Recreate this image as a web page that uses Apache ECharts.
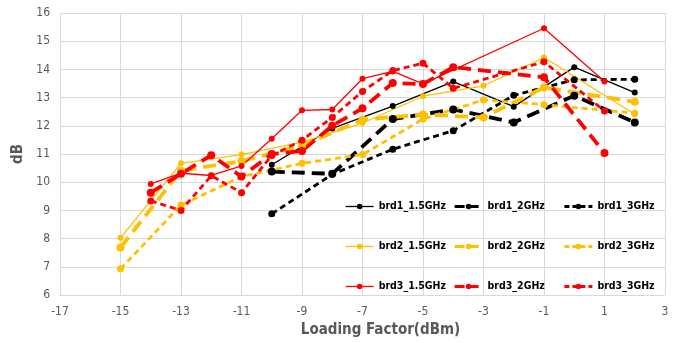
<!DOCTYPE html>
<html lang="en">
<head>
    <meta charset="UTF-8">
    <title>Loading Factor</title>
    <script src="https://cdn.jsdelivr.net/npm/echarts@6/dist/echarts.min.js"></script>
    <style>
        body { margin: 0; background: #fff; }
    </style>
</head>
<body>
    <div id="ec" style="width:680px;height:343px"></div>
</body>
<script>
    // x positions (dBm) for each board
    var xB1 = [-10, -8, -6, -4, -2, 0, 2]
    var xB2 = [-15, -13, -11, -9, -7, -5, -3, -1, 2]
    var xB3a = [-14, -13, -12, -11, -10, -9, -8, -7, -6, -5, -1, 1]
    var xB3b = [-14, -13, -12, -11, -10, -9, -8, -7, -6, -5, -4, -1, 1]

    // dB values
    var brd1_15 = [10.62, 11.91, 12.70, 13.57, 12.68, 14.08, 13.18]
    var brd1_2 = [10.38, 10.30, 12.24, 12.58, 12.12, 13.07, 12.12]
    var brd1_3 = [8.88, 10.28, 11.17, 11.83, 13.08, 13.63, 13.65]
    var brd2_15 = [8.03, 10.67, 10.98, 11.42, 12.10, 13.05, 13.42, 14.42, 12.41]
    var brd2_2 = [7.69, 10.41, 10.75, 11.30, 12.22, 12.40, 12.30, 13.36, 12.85]
    var brd2_3 = [6.93, 9.19, 10.20, 10.67, 10.98, 12.24, 12.92, 12.75, 12.45]
    var brd3_15 = [9.94, 10.32, 10.24, 10.58, 11.54, 12.55, 12.58, 13.67, 13.93, 13.49, 15.46, 13.57]
    var brd3_2 = [9.63, 10.30, 10.96, 10.20, 11.00, 11.11, 12.00, 12.62, 13.52, 13.48, 14.08, 13.72, 11.04]
    var brd3_3 = [9.34, 9.00, 10.23, 9.63, 10.95, 11.49, 12.30, 13.22, 13.96, 14.22, 13.33, 14.27, 12.53]

    var BLACK = '#000000', YELLOW = '#FFC000', RED = '#FF0000'
    var FONT = "'Liberation Sans Narrow', 'DejaVu Sans Condensed', 'Liberation Sans', sans-serif"

    // line look per frequency: 1.5GHz solid, 2GHz long dash, 3GHz short dash
    var STYLES = {
        solid: { width: 1.3, type: 'solid', size: 6 },
        long: { width: 3.8, type: [13, 7], size: 8 },
        short: { width: 2.8, type: [6, 4], size: 7 }
    }

    function pairs(xs, ys) {
        return xs.map(function(x, i) { return [x, ys[i]] })
    }

    function mk(name, xs, ys, color, kind) {
        var st = STYLES[kind]
        return {
            name: name,
            type: 'line',
            data: pairs(xs, ys),
            symbol: 'circle',
            symbolSize: st.size,
            itemStyle: { color: color },
            lineStyle: { color: color, width: st.width, type: st.type },
            emphasis: { disabled: true },
            animation: false
        }
    }

    function legendCol(left, kind, names, colors) {
        var st = STYLES[kind]
        return {
            orient: 'vertical',
            left: left,
            top: 201,
            padding: 0,
            itemGap: 29,
            itemWidth: 28,
            itemHeight: 7,
            data: names.map(function(n, i) {
                return {
                    name: n,
                    itemStyle: { color: colors[i] },
                    lineStyle: { color: colors[i], width: Math.min(st.width, 3.2), type: kind === 'long' ? [10, 4] : (kind === 'short' ? [5, 3] : 'solid') }
                }
            }),
            textStyle: { fontFamily: FONT, fontSize: 10.5, fontWeight: 'bold', color: '#000' }
        }
    }

    var colors = [BLACK, YELLOW, RED]
    var mychart = echarts.init(document.getElementById('ec'))
    var options = {
        backgroundColor: '#fff',
        grid: { left: 60, right: 15, top: 13, bottom: 42, containLabel: false },
        legend: [
            legendCol(345, 'solid', ['brd1_1.5GHz', 'brd2_1.5GHz', 'brd3_1.5GHz'], colors),
            legendCol(453, 'long', ['brd1_2GHz', 'brd2_2GHz', 'brd3_2GHz'], colors),
            legendCol(563, 'short', ['brd1_3GHz', 'brd2_3GHz', 'brd3_3GHz'], colors)
        ],
        xAxis: {
            type: 'value',
            min: -17,
            max: 3,
            interval: 2,
            name: 'Loading Factor(dBm)',
            nameLocation: 'middle',
            nameGap: 26,
            nameTextStyle: { fontFamily: FONT, fontSize: 15, fontWeight: 'bold', color: '#595959', padding: [0, 0, 0, 36] },
            axisLine: { lineStyle: { color: '#d9d9d9' } },
            axisTick: { show: false },
            axisLabel: { fontFamily: FONT, fontSize: 12, color: '#595959', margin: 11 },
            splitLine: { show: true, lineStyle: { color: '#d9d9d9' } }
        },
        yAxis: {
            type: 'value',
            min: 6,
            max: 16,
            interval: 1,
            name: 'dB',
            nameLocation: 'middle',
            nameGap: 32,
            nameTextStyle: { fontFamily: FONT, fontSize: 15, fontWeight: 'bold', color: '#595959' },
            axisLine: { show: false },
            axisTick: { show: false },
            axisLabel: { fontFamily: FONT, fontSize: 12, color: '#595959', margin: 10 },
            splitLine: { show: true, lineStyle: { color: '#d9d9d9' } }
        },
        series: [
            mk('brd1_1.5GHz', xB1, brd1_15, BLACK, 'solid'),
            mk('brd1_2GHz', xB1, brd1_2, BLACK, 'long'),
            mk('brd1_3GHz', xB1, brd1_3, BLACK, 'short'),
            mk('brd2_1.5GHz', xB2, brd2_15, YELLOW, 'solid'),
            mk('brd2_2GHz', xB2, brd2_2, YELLOW, 'long'),
            mk('brd2_3GHz', xB2, brd2_3, YELLOW, 'short'),
            mk('brd3_1.5GHz', xB3a, brd3_15, RED, 'solid'),
            mk('brd3_2GHz', xB3b, brd3_2, RED, 'long'),
            mk('brd3_3GHz', xB3b, brd3_3, RED, 'short')
        ]
    }
    mychart.setOption(options)
</script>
</html>
